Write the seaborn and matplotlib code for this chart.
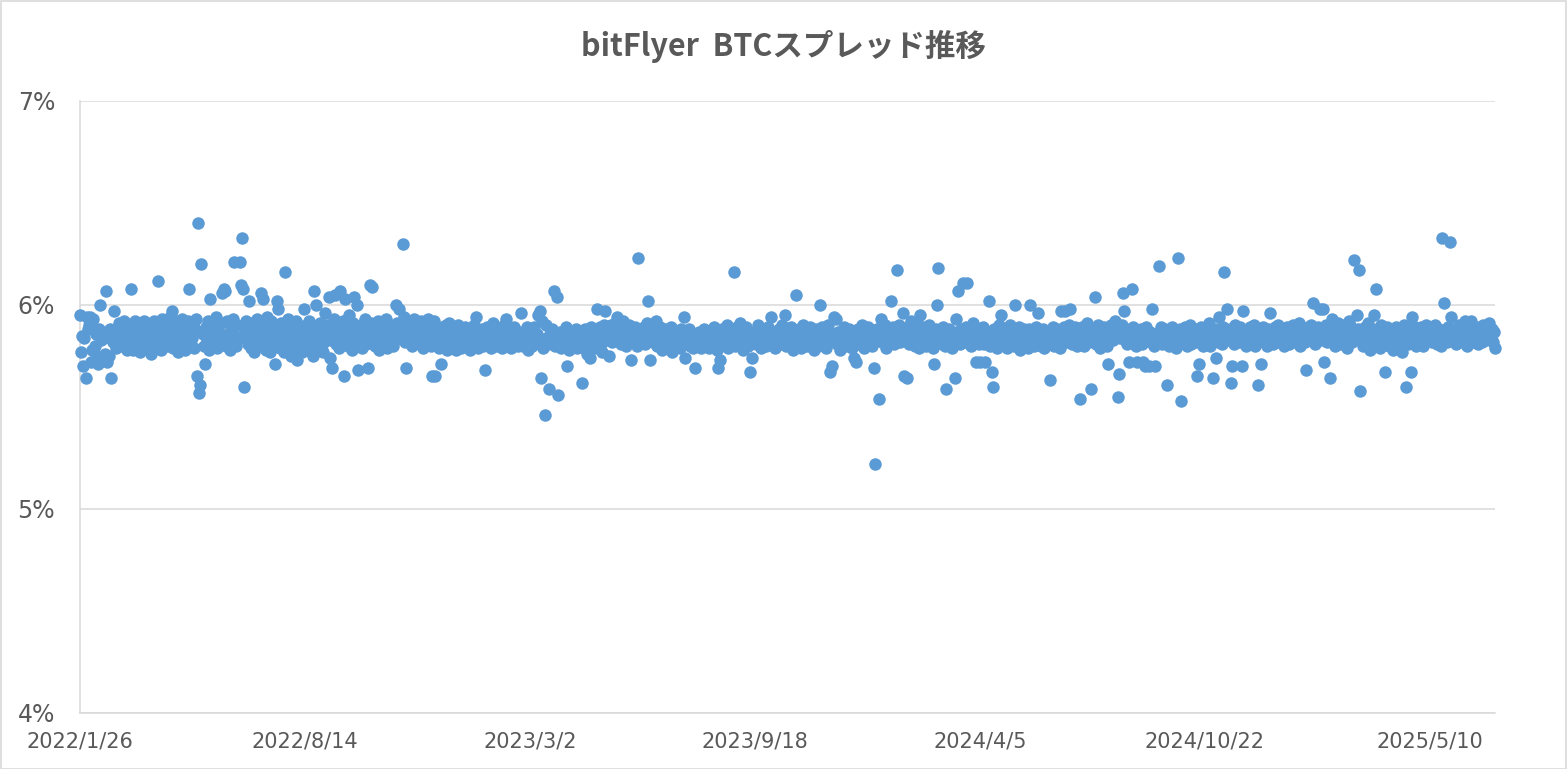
import pandas as pd
import matplotlib
matplotlib.use("Agg")
import matplotlib.pyplot as plt
import matplotlib.dates as mdates
from matplotlib.ticker import FuncFormatter
from matplotlib.patches import Rectangle
import seaborn as sns

# daily spread, in 1/100 of a percent, starting 2022/1/26 (100 days per block)
start_date = "2022-01-26"
tick_dates = ["2022-01-26", "2022-08-14", "2023-03-02", "2023-09-18",
              "2024-04-05", "2024-10-22", "2025-05-10"]
y_ticks = [4, 5, 6, 7]

spread_d0000 = [
    595, 577, 585, 570, 584, 564, 594, 588, 590, 594,
    572, 578, 593, 580, 586, 575, 571, 588, 600, 583,
    573, 584, 576, 607, 572, 586, 575, 588, 564, 582,
    597, 585, 579, 588, 583, 591, 580, 587, 584, 592,
    581, 589, 578, 586, 590, 608, 583, 578, 588, 592,
    584, 580, 591, 577, 586, 589, 582, 592, 579, 585,
    591, 583, 588, 576, 590, 585, 592, 581, 587, 612,
    584, 589, 578, 593, 586, 582, 591, 580, 587, 583,
    594, 585, 597, 579, 588, 592, 583, 577, 590, 586,
    581, 593, 587, 578, 589, 584, 592, 608, 583, 587,
]
spread_d0100 = [
    584, 579, 588, 593, 565, 640, 557, 561, 620, 586,
    580, 571, 589, 583, 592, 578, 603, 585, 590, 581,
    587, 594, 579, 588, 583, 591, 606, 584, 608, 607,
    580, 592, 586, 578, 589, 583, 593, 621, 585, 580,
    590, 584, 621, 610, 633, 608, 560, 587, 592, 581,
    602, 586, 579, 591, 584, 577, 589, 593, 582, 587,
    580, 606, 591, 603, 585, 578, 594, 583, 588, 577,
    592, 585, 581, 571, 589, 602, 598, 584, 579, 591,
    586, 577, 616, 588, 583, 593, 580, 587, 575, 590,
    584, 579, 592, 573, 586, 581, 589, 577, 585, 598,
]
spread_d0200 = [
    583, 590, 578, 587, 592, 581, 586, 575, 607, 589,
    600, 584, 579, 591, 585, 588, 577, 582, 596, 586,
    590, 604, 574, 583, 569, 588, 593, 605, 581, 587,
    579, 607, 589, 584, 592, 565, 603, 586, 580, 595,
    583, 589, 578, 591, 604, 585, 600, 568, 587, 582,
    590, 579, 586, 593, 581, 588, 569, 584, 610, 591,
    609, 585, 580, 589, 583, 592, 578, 586, 590, 581,
    587, 584, 593, 579, 588, 582, 590, 585, 580, 589,
    583, 600, 591, 586, 598, 584, 589, 630, 594, 582,
    569, 588, 592, 585, 590, 580, 587, 593, 584, 589,
]
spread_d0300 = [
    584, 589, 581, 592, 586, 579, 590, 583, 587, 593,
    585, 591, 580, 565, 586, 592, 565, 583, 588, 579,
    585, 571, 589, 582, 586, 590, 578, 584, 591, 587,
    581, 586, 583, 588, 578, 585, 590, 582, 584, 579,
    587, 583, 589, 580, 585, 582, 588, 578, 586, 584,
    590, 581, 594, 585, 579, 587, 583, 588, 580, 585,
    568, 584, 589, 582, 586, 579, 585, 591, 583, 587,
    580, 585, 582, 588, 584, 579, 586, 590, 583, 593,
    581, 587, 584, 579, 586, 583, 589, 582, 585, 580,
    587, 584, 596, 583, 580, 586, 582, 589, 578, 585,
]
spread_d0400 = [
    583, 587, 580, 585, 589, 582, 586, 595, 584, 597,
    564, 592, 579, 546, 590, 584, 581, 559, 586, 583,
    588, 607, 580, 585, 604, 556, 582, 587, 579, 584,
    586, 581, 589, 570, 583, 578, 587, 582, 585, 580,
    584, 588, 579, 586, 581, 587, 562, 583, 579, 588,
    582, 576, 585, 574, 589, 583, 580, 586, 579, 587,
    598, 584, 589, 581, 577, 586, 590, 597, 583, 588,
    575, 585, 590, 582, 587, 584, 591, 594, 583, 586,
    589, 581, 586, 592, 584, 580, 588, 583, 590, 585,
    573, 586, 582, 589, 584, 580, 623, 587, 583, 586,
]
spread_d0500 = [
    584, 589, 581, 586, 591, 602, 585, 573, 588, 582,
    587, 583, 592, 580, 586, 584, 589, 578, 585, 582,
    588, 584, 580, 586, 583, 589, 577, 585, 582, 587,
    581, 586, 584, 579, 588, 583, 587, 594, 574, 585,
    582, 588, 580, 585, 583, 579, 586, 569, 584, 581,
    587, 583, 579, 585, 582, 588, 580, 584, 586, 579,
    583, 587, 581, 585, 589, 582, 578, 569, 586, 573,
    584, 588, 581, 586, 583, 590, 579, 585, 582, 587,
    584, 616, 580, 586, 589, 583, 581, 591, 585, 578,
    586, 582, 589, 584, 580, 587, 567, 574, 585, 583,
]
spread_d0600 = [
    587, 581, 585, 590, 583, 579, 586, 582, 588, 584,
    580, 586, 589, 583, 594, 581, 587, 584, 579, 586,
    583, 588, 581, 585, 590, 582, 586, 595, 580, 584,
    587, 582, 589, 583, 578, 586, 584, 605, 581, 588,
    583, 579, 586, 590, 582, 585, 580, 587, 584, 589,
    581, 586, 583, 578, 588, 584, 580, 587, 600, 583,
    589, 582, 586, 579, 585, 590, 583, 567, 586, 570,
    594, 584, 593, 581, 587, 583, 578, 586, 582, 589,
    584, 580, 587, 583, 588, 582, 579, 585, 574, 586,
    572, 583, 588, 581, 586, 590, 584, 579, 587, 582,
]
spread_d0700 = [
    584, 589, 581, 586, 580, 587, 569, 522, 583, 588,
    554, 585, 593, 582, 587, 583, 590, 579, 586, 584,
    588, 602, 583, 589, 581, 586, 617, 584, 590, 582,
    587, 583, 596, 565, 585, 564, 589, 581, 586, 592,
    583, 588, 580, 586, 591, 584, 579, 595, 587, 582,
    589, 584, 580, 587, 583, 590, 582, 586, 579, 571,
    585, 588, 600, 618, 583, 587, 581, 589, 584, 580,
    559, 586, 582, 588, 584, 579, 587, 583, 564, 593,
    585, 607, 581, 588, 583, 611, 586, 582, 589, 611,
    584, 587, 580, 586, 591, 583, 588, 572, 585, 581,
]
spread_d0800 = [
    572, 586, 583, 589, 581, 572, 587, 584, 602, 580,
    586, 567, 560, 588, 583, 579, 586, 590, 582, 595,
    584, 587, 581, 588, 579, 585, 583, 590, 582, 586,
    580, 600, 584, 587, 582, 589, 578, 585, 583, 588,
    581, 586, 584, 579, 588, 600, 583, 587, 580, 585,
    589, 582, 596, 586, 580, 584, 588, 579, 585, 583,
    587, 581, 563, 586, 584, 589, 580, 585, 582, 588,
    584, 579, 597, 586, 583, 589, 597, 582, 585, 590,
    598, 584, 581, 587, 583, 589, 580, 586, 582, 554,
    585, 589, 583, 580, 586, 591, 584, 582, 588, 559,
]
spread_d0900 = [
    584, 588, 604, 581, 586, 590, 583, 579, 587, 585,
    589, 582, 586, 580, 571, 588, 584, 590, 583, 587,
    592, 585, 589, 555, 566, 584, 590, 606, 597, 583,
    588, 581, 586, 572, 584, 608, 589, 582, 587, 580,
    572, 586, 583, 588, 581, 572, 585, 570, 589, 583,
    570, 587, 582, 598, 585, 580, 570, 586, 583, 619,
    584, 589, 581, 586, 583, 588, 561, 585, 580, 587,
    583, 589, 582, 586, 579, 585, 623, 584, 588, 553,
    586, 582, 589, 584, 580, 587, 583, 590, 581, 586,
    584, 588, 582, 565, 587, 571, 583, 589, 580, 585,
]
spread_d1000 = [
    586, 582, 589, 584, 591, 580, 587, 564, 585, 583,
    574, 588, 582, 594, 586, 581, 589, 616, 584, 587,
    598, 583, 588, 562, 570, 586, 581, 590, 584, 587,
    582, 589, 585, 570, 597, 583, 587, 580, 586, 584,
    589, 582, 586, 583, 590, 580, 587, 561, 584, 588,
    571, 585, 589, 582, 586, 580, 588, 584, 596, 583,
    587, 581, 589, 585, 583, 590, 582, 586, 588, 584,
    580, 587, 583, 589, 585, 581, 588, 584, 590, 586,
    582, 589, 585, 583, 591, 580, 587, 584, 588, 582,
    568, 586, 589, 584, 590, 583, 601, 587, 581, 588,
]
spread_d1100 = [
    584, 589, 598, 583, 587, 598, 572, 585, 590, 582,
    586, 564, 589, 593, 583, 587, 580, 586, 591, 584,
    588, 581, 586, 590, 583, 587, 579, 585, 592, 584,
    589, 582, 586, 622, 584, 595, 588, 617, 558, 583,
    587, 580, 589, 584, 586, 591, 582, 578, 587, 584,
    595, 583, 608, 588, 581, 586, 579, 590, 584, 582,
    567, 585, 589, 583, 580, 587, 584, 578, 586, 582,
    589, 584, 580, 587, 583, 577, 586, 590, 582, 560,
    585, 581, 588, 567, 594, 586, 583, 589, 580, 585,
    587, 582, 589, 584, 580, 586, 583, 590, 584, 588,
]
spread_d1200 = [
    584, 589, 582, 587, 583, 590, 581, 586, 588, 584,
    580, 633, 587, 601, 585, 582, 589, 584, 631, 594,
    586, 583, 588, 581, 587, 584, 590, 582, 586, 589,
    583, 592, 585, 580, 587, 584, 589, 592, 582, 586,
    588, 583, 587, 581, 589, 585, 582, 590, 584, 587,
    583, 589, 586, 591, 584, 588, 582, 587, 579,
]

values = (spread_d0000 + spread_d0100 + spread_d0200 + spread_d0300 + spread_d0400
          + spread_d0500 + spread_d0600 + spread_d0700 + spread_d0800 + spread_d0900
          + spread_d1000 + spread_d1100 + spread_d1200)

df = pd.DataFrame({
    "date": pd.date_range(start_date, periods=len(values), freq="D"),
    "spread": [v / 100 for v in values],
})

sns.set_style("white")
plt.rcParams["font.family"] = ["DejaVu Sans"]

grey = "#D9D9D9"
text_grey = "#595959"

fig = plt.figure(figsize=(15.67, 7.69), dpi=100)
ax = fig.add_axes([80 / 1567, 56 / 769, 1415 / 1567, 612 / 769])

sns.scatterplot(data=df, x="date", y="spread", ax=ax, color="#5B9BD5",
                s=81, linewidth=0, clip_on=False, legend=False, zorder=3)

ax.set_xlim(pd.Timestamp(start_date), pd.Timestamp(start_date) + pd.Timedelta(days=1258))
ax.set_ylim(4, 7)
ax.set_yticks(y_ticks)
ax.yaxis.set_major_formatter(FuncFormatter(lambda v, p: f"{v:.0f}%"))
ax.set_xticks(pd.to_datetime(tick_dates))


def date_label(v, p):
    d = mdates.num2date(v)
    return f"{d.year}/{d.month}/{d.day}"


ax.xaxis.set_major_formatter(FuncFormatter(date_label))
ax.set_xlabel("")
ax.set_ylabel("")

ax.set_axisbelow(True)
ax.grid(axis="y", color=grey, linewidth=1.1)
ax.grid(axis="x", visible=False)
for side in ["top", "right"]:
    ax.spines[side].set_visible(False)
for side in ["left", "bottom"]:
    ax.spines[side].set_color(grey)
    ax.spines[side].set_linewidth(1.1)

ax.tick_params(axis="y", length=0, pad=18, labelsize=17, labelcolor=text_grey)
ax.tick_params(axis="x", length=6, width=1.1, color=grey, pad=7,
               labelsize=15, labelcolor=text_grey, direction="out")

fig.text(0.5, 1 - 46 / 769, "bitFlyer  BTCスプレッド推移", ha="center", va="center",
         fontsize=22, fontweight="bold", color=text_grey,
         family=["Noto Sans CJK JP", "DejaVu Sans"])

fig.patches.append(Rectangle((0.5 / 1567, 0.5 / 769), 1 - 1.5 / 1567, 1 - 1.5 / 769,
                             transform=fig.transFigure, fill=False,
                             edgecolor=grey, linewidth=1.2))

fig.savefig("out.png", dpi=100)
